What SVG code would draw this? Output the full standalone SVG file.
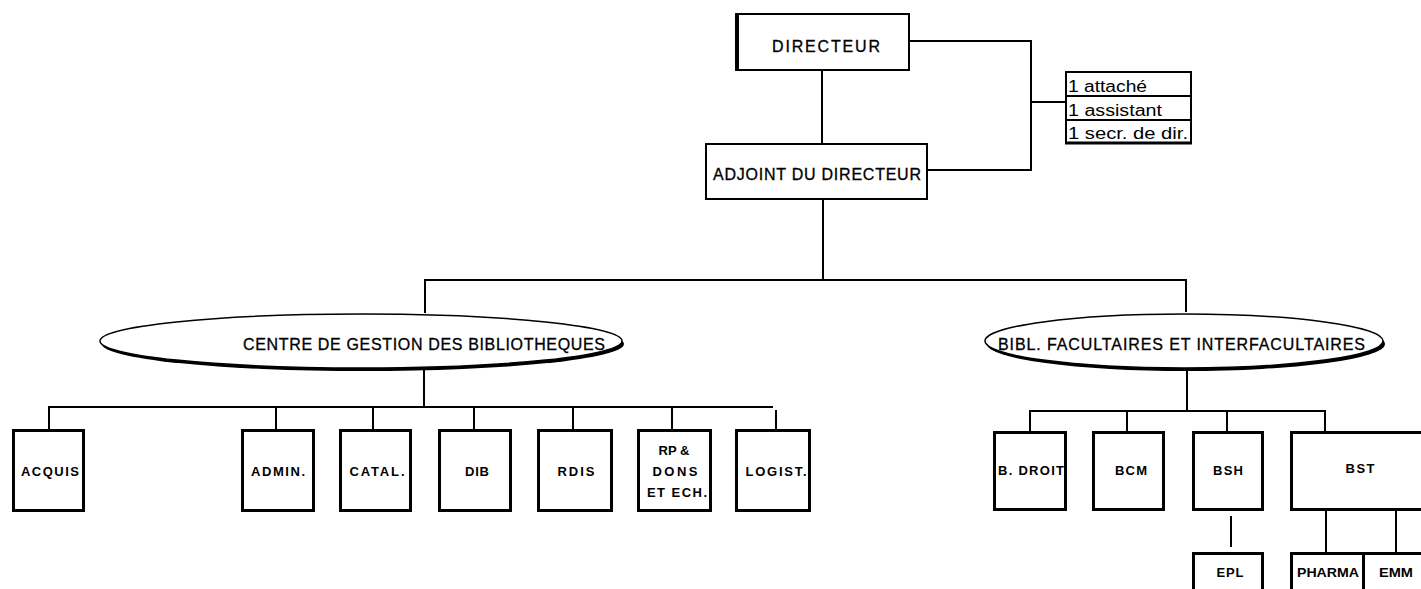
<svg xmlns="http://www.w3.org/2000/svg" width="1421" height="589" viewBox="0 0 1421 589">
<style>
text{font-family:"Liberation Sans",Arial,sans-serif;fill:#000;}
.s{font-size:13px;text-anchor:middle;font-weight:bold;}
.r{font-size:16px;stroke:#000;stroke-width:0.3;}
.box{fill:#fff;stroke:#000;stroke-width:3;}
.thin{fill:#fff;stroke:#000;stroke-width:2;}
.conn line,.conn polyline{stroke:#000;stroke-width:2;fill:none;}
</style>
<rect width="1421" height="589" fill="#fff"/>
<g class="conn" id="connectors">
<line x1="822" y1="71" x2="822" y2="143"/>
<polyline points="910,41 1031,41 1031,170 928,170"/>
<line x1="1031" y1="102" x2="1065" y2="102"/>
<line x1="823" y1="200" x2="823" y2="280"/>
<line x1="424" y1="280" x2="1187" y2="280"/>
<line x1="425" y1="279" x2="425" y2="313"/>
<line x1="1186" y1="279" x2="1186" y2="312"/>
<line x1="424" y1="369" x2="424" y2="407"/>
<line x1="48" y1="407" x2="773" y2="407"/>
<line x1="49" y1="406" x2="49" y2="430"/>
<line x1="276" y1="407" x2="276" y2="430"/>
<line x1="373" y1="407" x2="373" y2="430"/>
<line x1="474" y1="407" x2="474" y2="430"/>
<line x1="573" y1="407" x2="573" y2="430"/>
<line x1="672" y1="407" x2="672" y2="430"/>
<line x1="776" y1="410" x2="776" y2="430"/>
<line x1="1187" y1="370" x2="1187" y2="411"/>
<line x1="1029" y1="411" x2="1326" y2="411"/>
<line x1="1030" y1="410" x2="1030" y2="432"/>
<line x1="1127" y1="411" x2="1127" y2="432"/>
<line x1="1227" y1="411" x2="1227" y2="432"/>
<line x1="1325" y1="410" x2="1325" y2="432"/>
<line x1="1231" y1="516" x2="1231" y2="547"/>
<line x1="1326" y1="510" x2="1326" y2="552"/>
<line x1="1396" y1="510" x2="1396" y2="552"/>
</g>
<g id="directeur">
<rect x="736" y="14" width="173" height="56" class="thin"/>
<line x1="737" y1="13" x2="737" y2="71" stroke="#000" stroke-width="4"/>
<text x="826" y="52" class="r" text-anchor="middle" textLength="108" lengthAdjust="spacing">DIRECTEUR</text>
</g>
<g id="staff">
<rect x="1066" y="72" width="125" height="71" class="thin"/>
<line x1="1066" y1="96" x2="1191" y2="96" stroke="#000" stroke-width="2"/>
<line x1="1066" y1="120" x2="1191" y2="120" stroke="#000" stroke-width="2"/>
<line x1="1065" y1="143" x2="1192" y2="143" stroke="#000" stroke-width="3"/>
<text x="1068" y="92" font-size="16" textLength="79" lengthAdjust="spacingAndGlyphs">1 attaché</text>
<text x="1068" y="116" font-size="16" textLength="94" lengthAdjust="spacingAndGlyphs">1 assistant</text>
<text x="1068" y="139" font-size="16" textLength="120" lengthAdjust="spacingAndGlyphs">1 secr. de dir.</text>
</g>
<g id="adjoint">
<rect x="706" y="144" width="221" height="55" class="thin"/>
<text x="817" y="180" class="r" text-anchor="middle" textLength="208" lengthAdjust="spacing">ADJOINT DU DIRECTEUR</text>
</g>
<g id="cgb">
<ellipse cx="363" cy="344" rx="261" ry="27" fill="#000"/>
<ellipse cx="361" cy="341" rx="261" ry="27" fill="#fff" stroke="#000" stroke-width="1.5"/>
<text x="243" y="350" class="r" textLength="362" lengthAdjust="spacing">CENTRE DE GESTION DES BIBLIOTHEQUES</text>
</g>
<g id="bfi">
<ellipse cx="1186" cy="344" rx="199" ry="27" fill="#000"/>
<ellipse cx="1184" cy="341" rx="199" ry="27" fill="#fff" stroke="#000" stroke-width="1.5"/>
<text x="998" y="350" class="r" textLength="367" lengthAdjust="spacing">BIBL. FACULTAIRES ET INTERFACULTAIRES</text>
</g>
<g id="acquis"><rect x="13.5" y="430.5" width="70" height="80" class="box"/><text x="50" y="476" class="s" textLength="58" lengthAdjust="spacing">ACQUIS</text></g>
<g id="admin"><rect x="242.5" y="430.5" width="71" height="80" class="box"/><text x="278" y="476" class="s" textLength="54" lengthAdjust="spacing">ADMIN.</text></g>
<g id="catal"><rect x="340.5" y="430.5" width="70" height="80" class="box"/><text x="377" y="476" class="s" textLength="55" lengthAdjust="spacing">CATAL.</text></g>
<g id="dib"><rect x="439.5" y="430.5" width="71" height="80" class="box"/><text x="477" y="476" class="s" textLength="24" lengthAdjust="spacing">DIB</text></g>
<g id="rdis"><rect x="538.5" y="430.5" width="73" height="80" class="box"/><text x="576" y="476" class="s" textLength="37" lengthAdjust="spacing">RDIS</text></g>
<g id="rp"><rect x="638.5" y="430.5" width="72" height="80" class="box"/>
<text x="674" y="455" class="s">RP &amp;</text>
<text x="675" y="476" class="s" textLength="45" lengthAdjust="spacing">DONS</text>
<text x="677" y="497" class="s" textLength="60" lengthAdjust="spacing">ET ECH.</text></g>
<g id="logist"><rect x="736.5" y="430.5" width="73" height="80" class="box"/><text x="776" y="476" class="s" textLength="61" lengthAdjust="spacing">LOGIST.</text></g>
<g id="bdroit"><rect x="994.5" y="432.5" width="71" height="77" class="box"/><text x="1031" y="475" class="s" textLength="66" lengthAdjust="spacing">B. DROIT</text></g>
<g id="bcm"><rect x="1093.5" y="432.5" width="70" height="77" class="box"/><text x="1131" y="475" class="s" textLength="32" lengthAdjust="spacing">BCM</text></g>
<g id="bsh"><rect x="1193.5" y="432.5" width="69" height="77" class="box"/><text x="1228" y="475" class="s" textLength="30" lengthAdjust="spacing">BSH</text></g>
<g id="bst"><rect x="1291.5" y="432.5" width="150" height="77" class="box"/><text x="1360" y="473" class="s" textLength="29" lengthAdjust="spacing">BST</text></g>
<g id="epl"><rect x="1193.5" y="553.5" width="69" height="60" class="box"/><text x="1230" y="577" class="s" textLength="27" lengthAdjust="spacing">EPL</text></g>
<g id="pharma"><rect x="1291.5" y="553.5" width="72" height="60" class="box"/><text x="1328" y="577" class="s" textLength="62" lengthAdjust="spacingAndGlyphs">PHARMA</text></g>
<g id="emm"><rect x="1363.5" y="553.5" width="80" height="60" class="box"/><text x="1396" y="577" class="s" textLength="34" lengthAdjust="spacingAndGlyphs">EMM</text></g>
</svg>
